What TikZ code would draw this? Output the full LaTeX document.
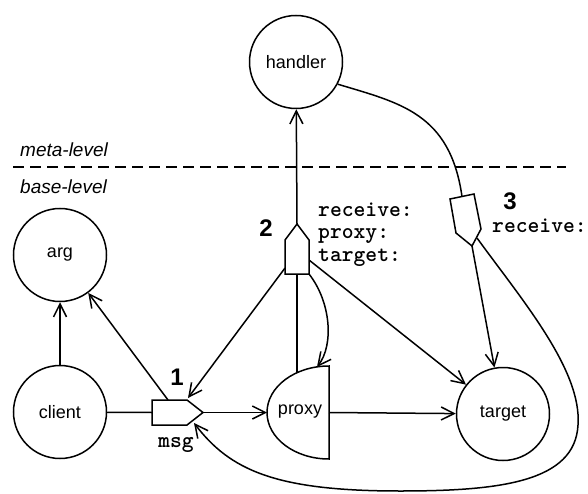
\documentclass[tikz,border=0pt]{standalone}
\usepackage{fontspec}
\setmainfont{Liberation Sans}
\usetikzlibrary{arrows.meta}
\begin{document}
\begin{tikzpicture}[x=1pt,y=-1pt,
  ln/.style={line width=1.5pt, line join=miter},
  arr/.style={ln, -{Straight Barb[length=13pt,width=13pt]}},
  circ/.style={circle, draw, line width=1.5pt, minimum size=93pt, inner sep=0pt,
    font=\fontsize{18}{20}\selectfont},
  lbl/.style={font=\fontsize{18}{20}\selectfont, inner sep=0pt},
  lvl/.style={font=\fontsize{19}{21}\selectfont\itshape, anchor=west, inner sep=0pt},
  code/.style={font=\fontsize{22.5}{24}\ttfamily\bfseries, anchor=base west, inner sep=0pt},
  num/.style={font=\fontsize{24}{26}\selectfont\bfseries, inner sep=0pt},
  pent/.style={ln, fill=white}
]
\useasboundingbox (0,0) rectangle (588,494);

% level separator
\draw[line width=1.5pt, dash pattern=on 11pt off 6pt] (13,167) -- (566,167);
\node[lvl] (meta) at (20,150) {meta-level};
\node[lvl] (base) at (20,187) {base-level};

% circle nodes
\node[circ] (handler) at (296,62) {handler};
\node[circ] (arg) at (60,255) {arg};
\node[circ] (client) at (60,412) {client};
\node[circ] (target) at (503,414) {target};

% proxy (half ellipse)
\draw[ln] (329,366) -- (329,459) arc[start angle=90, end angle=270, x radius=62, y radius=46.5] -- cycle;
\node[lbl] (proxy) at (300,412) {proxy};
\coordinate (proxyL) at (267,412.5);
\coordinate (proxyR) at (329,412.5);
\coordinate (proxyT1) at (297,372.7);
\coordinate (proxyT2) at (317,367);

% message pentagons
\coordinate (msgW) at (152,412.5);
\coordinate (msgTip) at (203,412.5);
\coordinate (msgTop) at (168,400);
\coordinate (msgNE) at (188,398);
\coordinate (msgSE) at (194,423);
\coordinate (p2T) at (297,224);
\coordinate (p2L) at (285,268);
\coordinate (p2B) at (297,274);
\coordinate (p2BR) at (309,274);
\coordinate (p2R) at (309,260);
\coordinate (p3T) at (462,196.5);
\coordinate (p3B) at (472,246);
\coordinate (p3R) at (477,238);

% connectors
\draw[arr] (client) -- (arg);
\draw[ln] (client) -- (msgW);
\draw[arr] (msgTip) -- (proxyL);
\draw[arr] (msgTop) -- (arg);
\draw[arr] (p2L) -- (msgNE);
\draw[ln] (p2B) -- (proxyT1);
\draw[arr] (p2BR) .. controls (331,302) and (334,345) .. (proxyT2);
\draw[arr] (p2R) -- (target);
\draw[arr] (p2T) -- (handler);
\draw[arr] (proxyR) -- (target);
\draw[ln] (handler.-28) .. controls (400,103) and (450,113) .. (p3T);
\draw[arr] (p3B) -- (target);
\draw[arr] (p3R) .. controls (522,300) and (582,370) .. (578,425)
  .. controls (575,482) and (500,491) .. (400,491)
  .. controls (275,491) and (230,470) .. (msgSE);

% pentagon shapes on top
\draw[pent] (152,400) -- (187,400) -- (203,412.5) -- (187,425) -- (152,425) -- cycle;
\draw[pent] (285,274) -- (285,240) -- (297,224) -- (309,240) -- (309,274) -- cycle;
\draw[pent] (450,199) -- (474,194) -- (481,229) -- (472,246) -- (456,233) -- cycle;

% labels
\node[num] (n1) at (177,377) {1};
\node[num] (n2) at (266,228) {2};
\node[num] (n3) at (510,201) {3};
\node[code] (msg) at (158,447) {msg};
\node[code] (r2a) at (318,216) {receive:};
\node[code] (r2b) at (318,238.5) {proxy:};
\node[code] (r2c) at (318,261) {target:};
\node[code] (r3) at (492,232) {receive:};
\end{tikzpicture}
\end{document}
